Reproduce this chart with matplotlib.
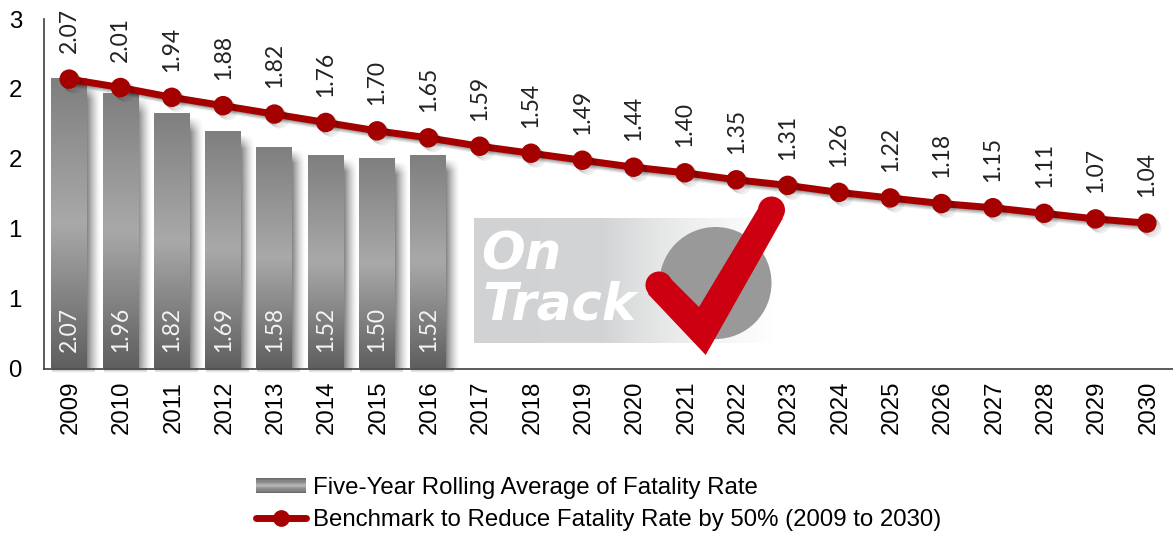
import numpy as np
import matplotlib
matplotlib.use('Agg')
import matplotlib.pyplot as plt
import matplotlib.patheffects as pe
from matplotlib.colors import LinearSegmentedColormap
from matplotlib.legend_handler import HandlerBase
from matplotlib.lines import Line2D
from matplotlib.patches import Circle, Patch, Polygon, Rectangle
from matplotlib.transforms import ScaledTranslation

years = list(range(2009, 2031))
rolling_avg = [2.07, 1.96, 1.82, 1.69, 1.58, 1.52, 1.50, 1.52]
benchmark = [2.07, 2.01, 1.94, 1.88, 1.82, 1.76, 1.70, 1.65, 1.59, 1.54, 1.49,
             1.44, 1.40, 1.35, 1.31, 1.26, 1.22, 1.18, 1.15, 1.11, 1.07, 1.04]
ytick_values = [0, 0.5, 1, 1.5, 2, 2.5]
ytick_labels = ['0', '1', '1', '2', '2', '3']
legend_labels = ['Five-Year Rolling Average of Fatality Rate',
                 'Benchmark to Reduce Fatality Rate by 50% (2009 to 2030)']

W, H = 1173, 533
RED = '#a50000'
SANS = 'Liberation Sans'
LIGHT = 'Lato'
bar_cmap = LinearSegmentedColormap.from_list('bar', ['#5f5f5f', '#a9a9a9', '#7f7f7f'])
x = np.arange(len(years))

fig = plt.figure(figsize=(W / 100, H / 100), dpi=100)
ax = fig.add_axes([43.5 / W, 1 - 368.5 / H, 1129 / W, 349.5 / H])
ax.set_xlim(-0.5, len(years) - 0.5)
ax.set_ylim(0, 2.5)

# bars: vertical gradient + soft shadow on the right
grad = np.linspace(1, 0, 256).reshape(-1, 1)
shadow = np.zeros((128, 64, 4))
top_fade = np.clip(np.linspace(0, 1, 128) / 0.06, 0, 1).reshape(-1, 1)
shadow[:, :, 3] = top_fade * np.linspace(0.6, 0, 64) ** 1.4
under = np.zeros((16, 1, 4))
under[:, 0, 3] = np.linspace(0.35, 0, 16)
for xi, v in zip(x, rolling_avg):
    ax.imshow(shadow, extent=(xi + 0.35, xi + 0.62, 0, v - 0.02), aspect='auto', zorder=1)
    ax.imshow(under, extent=(xi - 0.33, xi + 0.5, -0.03, 0), aspect='auto', zorder=1,
              clip_on=False)
    ax.imshow(grad, extent=(xi - 0.35, xi + 0.35, 0, v), aspect='auto', cmap=bar_cmap,
              vmin=0, vmax=1, zorder=2)
    ax.annotate(f'{v:.2f}', (xi, 0), xytext=(0, 12), textcoords='offset points', rotation=90,
                ha='center', va='bottom', color='#f4f4f4', fontsize=16.5, family=LIGHT,
                zorder=6)

shadows = [pe.SimpleLineShadow(offset=(o, -o), shadow_color='black', alpha=a)
           for o, a in ((0.5, 0.16), (1.5, 0.14), (2.5, 0.11), (3.5, 0.07))]
ax.plot(x, benchmark, color=RED, lw=5, marker='o', ms=13, mec=RED, zorder=5,
        path_effects=shadows + [pe.Normal()])

for xi, v in zip(x, benchmark):
    ax.annotate(f'{v:.2f}', (xi, v), xytext=(0, 18.5), textcoords='offset points', rotation=90,
                ha='center', va='bottom', color='#222222', fontsize=16.5, family=LIGHT,
                zorder=6)

ax.set_xlim(-0.5, len(years) - 0.5)
ax.set_ylim(0, 2.5)
ax.set_xticks(x, [str(y) for y in years], rotation=90, fontsize=17.3, family=SANS)
ax.set_yticks(ytick_values, ytick_labels, fontsize=17.3, family=SANS)
ax.tick_params(length=0)
ax.tick_params(axis='x', pad=9)
ax.tick_params(axis='y', pad=15.5)
# rotated labels sit a little left of the bar centres otherwise
nudge = ScaledTranslation(1.5 / 100, 0, fig.dpi_scale_trans)
for lab in ax.get_xticklabels():
    lab.set_transform(lab.get_transform() + nudge)
for s in ['top', 'right']:
    ax.spines[s].set_visible(False)
for s in ['left', 'bottom']:
    ax.spines[s].set_color('#404040')
    ax.spines[s].set_linewidth(1.2)
ax.patch.set_alpha(0)


# legend swatch with the same banding as the bars
class GradientHandler(HandlerBase):
    def create_artists(self, legend, orig, xd, yd, width, height, fontsize, trans):
        n = 13
        levels = np.abs(np.linspace(-1, 1, n))
        out = []
        for i, lv in enumerate(levels):
            g = 0.72 - 0.30 * lv
            out.append(Rectangle((-xd, -yd + height * i / n), width, height / n + 0.3,
                                 fc=(g, g, g), ec='none', transform=trans))
        return out


handles = [Patch(), Line2D([], [], color=RED, lw=5, marker='o', ms=11, solid_capstyle='round')]
fig.legend(handles, legend_labels, handler_map={Patch: GradientHandler()},
           loc='upper left', bbox_to_anchor=(256 / W, 1 - 477 / H), frameon=False,
           prop={'family': SANS, 'size': 17.3}, handlelength=2.1, handleheight=0.55,
           handletextpad=0.27, labelspacing=0.43, borderpad=0, borderaxespad=0)

# "On Track" badge, laid out in pixels
logo = fig.add_axes([0, 0, 1, 1], zorder=10)
logo.set_xlim(0, W)
logo.set_ylim(H, 0)
logo.axis('off')
logo_cmap = LinearSegmentedColormap.from_list(
    'logo', [(0, '#d0d2d4'), (0.43, '#d2d4d6'), (0.6, '#e4e6e6'), (0.72, '#eef0f0'), (1, '#ffffff')])
logo.imshow(np.linspace(0, 1, 256).reshape(1, -1), extent=(474, 776, 343, 218), aspect='auto',
            cmap=logo_cmap, vmin=0, vmax=1)
logo.set_xlim(0, W)
logo.set_ylim(H, 0)
logo.add_patch(Circle((715.5, 283), 56, fc='#999999', ec='none'))
logo.text(481, 270, 'On', color='white', fontsize=37, family='DejaVu Sans',
          weight='bold', style='italic', va='baseline')
logo.text(483, 320, 'Track', color='white', fontsize=37, family='DejaVu Sans',
          weight='bold', style='italic', va='baseline')
CHECK = '#cc0010'
logo.add_patch(Polygon([(648, 294), (705.7, 355), (783, 218), (762, 202), (699, 307), (668, 276)],
                       fc=CHECK, ec='none'))
logo.add_patch(Circle((659, 285), 13.5, fc=CHECK, ec='none'))
logo.add_patch(Circle((771.5, 210), 13.5, fc=CHECK, ec='none'))

fig.savefig('out.png', dpi=100)
